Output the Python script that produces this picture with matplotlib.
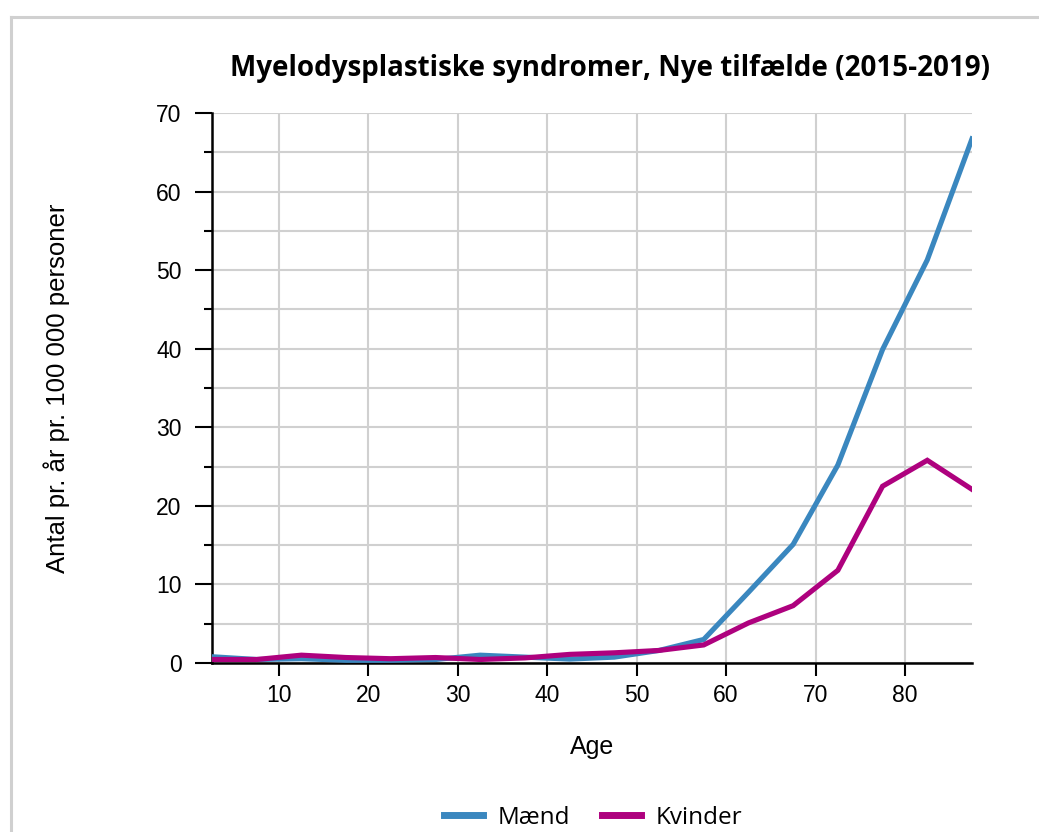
import matplotlib
matplotlib.use("Agg")
import matplotlib.pyplot as plt
from matplotlib.lines import Line2D
from matplotlib.ticker import MultipleLocator

ages = [2.5, 7.5, 12.5, 17.5, 22.5, 27.5, 32.5, 37.5, 42.5, 47.5,
        52.5, 57.5, 62.5, 67.5, 72.5, 77.5, 82.5, 87.5]
maend = [0.8, 0.45, 0.55, 0.35, 0.35, 0.45, 1.0, 0.75, 0.5, 0.75,
         1.6, 3.0, 9.0, 15.1, 25.2, 39.9, 51.3, 66.7]
kvinder = [0.45, 0.45, 1.0, 0.7, 0.55, 0.7, 0.45, 0.65, 1.1, 1.3,
           1.6, 2.3, 5.1, 7.3, 11.8, 22.5, 25.8, 22.1]
series_names = ["Mænd", "Kvinder"]
colors = ["#3a87bf", "#ae017e"]

fig = plt.figure(figsize=(10.39, 8.32), dpi=100)
ax = fig.add_axes([0.204, 0.2031, 0.7315, 0.6611])

for vals, name, c in zip([maend, kvinder], series_names, colors):
    ax.plot(ages, vals, color=c, lw=3.7, label=name, solid_joinstyle="miter", zorder=3)

ax.set_xlim(2.5, 87.5)
ax.set_ylim(0, 70)
ax.xaxis.set_major_locator(MultipleLocator(10))
ax.yaxis.set_major_locator(MultipleLocator(10))
ax.yaxis.set_minor_locator(MultipleLocator(5))
ax.grid(True, which="major", axis="x", color="#d0d0d0", lw=1.5)
ax.grid(True, which="both", axis="y", color="#d0d0d0", lw=1.5)
ax.set_axisbelow(True)

for s in ["top", "right"]:
    ax.spines[s].set_visible(False)
for s in ["left", "bottom"]:
    ax.spines[s].set_linewidth(1.8)
    ax.spines[s].set_color("black")

ax.tick_params(axis="y", which="major", length=12, width=1.5, labelsize=16.5, pad=10)
ax.tick_params(axis="y", which="minor", length=6, width=1.5)
ax.tick_params(axis="x", which="major", length=9, width=1.5, labelsize=16.5, pad=6)
for lab in ax.get_xticklabels() + ax.get_yticklabels():
    lab.set_fontfamily("Liberation Sans")

ax.set_xlabel("Age", fontsize=18, family="Liberation Sans")
ax.set_ylabel("Antal pr. år pr. 100 000 personer", fontsize=18.5,
              family="Liberation Sans")
ax.xaxis.set_label_coords(0.5, -0.131)
ax.yaxis.set_label_coords(-0.187, 0.5)

fig.text(0.587, 0.918, "Myelodysplastiske syndromer, Nye tilfælde (2015-2019)",
         ha="center", va="center", fontsize=20, fontweight="bold", family="Open Sans")

leg = fig.legend(loc="center", bbox_to_anchor=(0.571, 0.017), ncol=2, frameon=False,
                 prop={"family": "Open Sans", "size": 17.5}, handlelength=1.6,
                 columnspacing=1.3, handletextpad=0.6)
for h in leg.get_lines():
    h.set_linewidth(5)

# figure frame (left and top)
fig.add_artist(Line2D([0.0103, 0.0103], [0.0, 0.98], transform=fig.transFigure,
                      color="#d0d0d0", lw=2.2))
fig.add_artist(Line2D([0.0103, 1.0], [0.98, 0.98], transform=fig.transFigure,
                      color="#d0d0d0", lw=2.2))

fig.savefig("out.png", dpi=100)
